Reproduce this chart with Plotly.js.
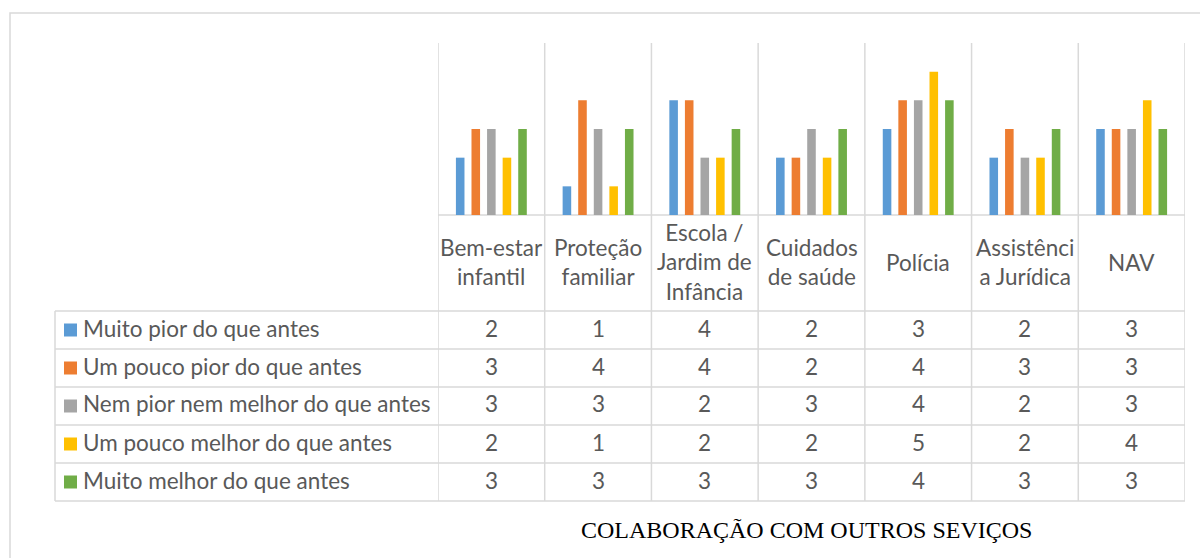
<!DOCTYPE html>
<html><head><meta charset="utf-8">
<script src="https://cdn.plot.ly/plotly-3.0.1.min.js"></script>
<style>html,body{margin:0;padding:0;background:#fff}#chart{width:1200px;height:558px}</style>
</head><body><div id="chart"></div>
<script>
const categories = ["Bem-estar infantil","Proteção familiar","Escola / Jardim de Infância","Cuidados de saúde","Polícia","Assistência Jurídica","NAV"];
const categoryLabels = ["Bem-estar<br>infantil","Proteção<br>familiar","Escola /<br>Jardim de<br>Infância","Cuidados<br>de saúde","Polícia","Assistênci<br>a Jurídica","NAV"];
const seriesNames = ["Muito pior do que antes","Um pouco pior do que antes","Nem pior nem melhor do que antes","Um pouco melhor do que antes","Muito melhor do que antes"];
const muitoPior = [2,1,4,2,3,2,3];
const umPoucoPior = [3,4,4,2,4,3,3];
const nemPiorNemMelhor = [3,3,2,3,4,2,3];
const umPoucoMelhor = [2,1,2,2,5,2,4];
const muitoMelhor = [3,3,3,3,4,3,3];
const chartTitle = "COLABORAÇÃO COM OUTROS SEVIÇOS";

const seriesValues = [muitoPior, umPoucoPior, nemPiorNemMelhor, umPoucoMelhor, muitoMelhor];
const colors = ["#5B9BD5","#ED7D31","#A5A5A5","#FFC000","#70AD47"];

// layout geometry (pixels)
const W = 1200, H = 558;
const L = 438, R = 1185, T = 43, B = 215;
const PW = R - L, PH = B - T;
const px = X => (X - L) / PW;
const py = Y => (B - Y) / PH;
const tableLeft = 55;
const headerBottom = 311;
const rowH = 38;
const tableBottom = headerBottom + rowH * seriesNames.length;
const gridColor = "#d9d9d9";
const textColor = "#595959";
const font = "Lato, 'Open Sans', sans-serif";
const fs = 22.5;

const x = categories.map((c,i)=>i);
const traces = seriesNames.map((n,s)=>({
  type:"bar", name:n, x:x, y:seriesValues[s],
  marker:{color:colors[s]}, hoverinfo:"skip", showlegend:false
}));

const shapes = [];
const annotations = [];
const line = (x0,y0,x1,y1,xref) => shapes.push({type:"line", xref:xref||"paper", yref:"paper",
  x0:x0, y0:y0, x1:x1, y1:y1, line:{color:gridColor, width:1.5}, layer:"below"});

// outer chart border
shapes.push({type:"rect", xref:"paper", yref:"paper", x0:px(10), y0:py(13), x1:px(1210), y1:py(570),
  line:{color:gridColor, width:1.5}, fillcolor:"rgba(0,0,0,0)", layer:"below"});

// category boundaries
for (let i=0;i<=categories.length;i++){
  shapes.push({type:"line", xref:"x", yref:"paper", x0:i-0.5, x1:i-0.5, y0:py(T), y1:py(tableBottom),
    line:{color:gridColor, width:1.5}, layer:"below"});
}
// baseline / header top
line(px(L), py(B), px(R), py(B));
// table horizontal lines
for (let r=0;r<=seriesNames.length;r++){
  const Y = headerBottom + r*rowH;
  line(px(tableLeft), py(Y), px(R), py(Y));
}
// table left edge
line(px(tableLeft), py(headerBottom), px(tableLeft), py(tableBottom));

// header labels
categoryLabels.forEach((lab,i)=>{
  annotations.push({xref:"x", yref:"paper", x:i, y:py((B+headerBottom)/2 - 1), text:lab,
    showarrow:false, xanchor:"center", yanchor:"middle", font:{family:font, size:fs, color:textColor}});
});

// table rows
seriesNames.forEach((n,s)=>{
  const Yc = headerBottom + rowH*s + rowH/2;
  shapes.push({type:"rect", xref:"paper", yref:"paper", x0:px(64), x1:px(77), y0:py(Yc-6.5), y1:py(Yc+6.5),
    fillcolor:colors[s], line:{width:0}});
  annotations.push({xref:"paper", yref:"paper", x:px(81), y:py(Yc-2), text:n, showarrow:false,
    xanchor:"left", yanchor:"middle", font:{family:font, size:fs, color:textColor}});
  seriesValues[s].forEach((v,i)=>{
    annotations.push({xref:"x", yref:"paper", x:i, y:py(Yc-2), text:String(v), showarrow:false,
      xanchor:"center", yanchor:"middle", font:{family:font, size:fs, color:textColor}});
  });
});

// title
annotations.push({xref:"paper", yref:"paper", x:px(806), y:py(530), text:chartTitle, showarrow:false,
  xanchor:"center", yanchor:"middle", font:{family:"'Liberation Serif', 'Times New Roman', serif", size:24, color:"#000"}});

const layout = {
  width:W, height:H,
  margin:{l:L, r:W-R, t:T, b:H-B, pad:0},
  paper_bgcolor:"#fff", plot_bgcolor:"rgba(0,0,0,0)",
  barmode:"group", bargap:0.27, bargroupgap:0.45,
  xaxis:{range:[-0.5, categories.length-0.5], showticklabels:false, showgrid:false, zeroline:false, showline:false, ticks:""},
  yaxis:{range:[0,6], showticklabels:false, showgrid:false, zeroline:false, showline:false, ticks:""},
  shapes:shapes, annotations:annotations, showlegend:false
};
Plotly.newPlot("chart", traces, layout, {displayModeBar:false, staticPlot:true});
</script></body></html>
